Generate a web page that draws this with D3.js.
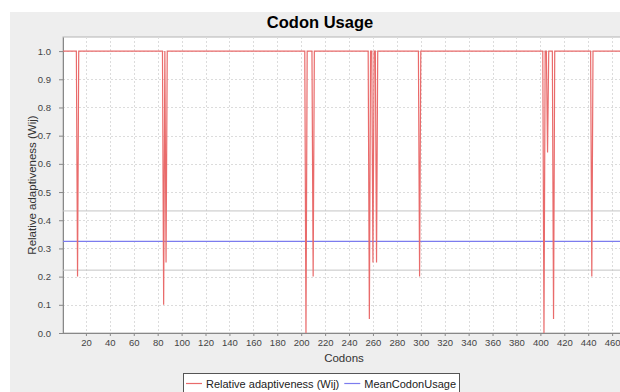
<!DOCTYPE html>
<html>
<head>
<meta charset="utf-8">
<script src="https://cdn.jsdelivr.net/npm/d3@7"></script>
<style>
  html, body { margin: 0; padding: 0; background: #fff; }
  svg { display: block; font-family: "Liberation Sans", Arial, sans-serif; }
</style>
</head>
<body>
<svg id="chart" width="620" height="392"></svg>
<script>
// codon positions run 1..codonCount, value 1.0 unless listed in dips
var codonCount = 470;
var baseValue = 1.0;
var dipCodons = [13, 85, 87, 204, 210, 257, 260, 263, 299, 403, 406, 411, 443];
var dipValues = [0.20, 0.10, 0.25, 0.00, 0.20, 0.05, 0.25, 0.25, 0.20, 0.00, 0.64, 0.05, 0.20];
var meanValue = 0.325;
var bandValues = [0.223, 0.433];
var xTicks = [20, 40, 60, 80, 100, 120, 140, 160, 180, 200, 220, 240, 260, 280, 300, 320, 340, 360, 380, 400, 420, 440, 460];
var yTicks = [0.0, 0.1, 0.2, 0.3, 0.4, 0.5, 0.6, 0.7, 0.8, 0.9, 1.0];
var seriesNames = ['Relative adaptiveness (Wij)', 'MeanCodonUsage'];
var seriesColors = ['#e96b6b', '#7c7cee'];

var wij = d3.range(1, codonCount + 1).map(function(c) {
  var i = dipCodons.indexOf(c);
  return { codon: c, value: i < 0 ? baseValue : dipValues[i] };
});

var svg = d3.select('#chart');
var plot = { left: 63, top: 37, right: 625, bottom: 333 };

var x = d3.scaleLinear().domain([0, 470]).range([62, 624.1]);
var y = d3.scaleLinear().domain([0, 1.05]).range([plot.bottom, plot.top]);

// chart panel
svg.append('rect')
    .attr('x', 10).attr('y', 12)
    .attr('width', 640).attr('height', 400)
    .attr('fill', '#eeeeee');

svg.append('text')
    .attr('x', 320).attr('y', 28)
    .attr('text-anchor', 'middle')
    .attr('font-size', 16.5)
    .attr('font-weight', 'bold')
    .attr('fill', '#000')
    .text('Codon Usage');

svg.append('defs').append('clipPath').attr('id', 'plot-clip')
  .append('rect')
    .attr('x', plot.left).attr('y', plot.top)
    .attr('width', plot.right - plot.left).attr('height', plot.bottom - plot.top);

svg.append('rect')
    .attr('x', plot.left).attr('y', plot.top)
    .attr('width', plot.right - plot.left).attr('height', plot.bottom - plot.top)
    .attr('fill', '#fff')
    .attr('stroke', '#b4b4b4');

// grid
var grid = svg.append('g').attr('clip-path', 'url(#plot-clip)')
    .attr('stroke', '#dcdcdc').attr('stroke-dasharray', '2,2').attr('shape-rendering', 'crispEdges');
grid.selectAll('line.v').data(xTicks).enter().append('line')
    .attr('x1', (d) => Math.round(x(d)) + 0.5).attr('x2', (d) => Math.round(x(d)) + 0.5)
    .attr('y1', plot.top).attr('y2', plot.bottom);
grid.selectAll('line.h').data(yTicks.slice(1)).enter().append('line')
    .attr('x1', plot.left).attr('x2', plot.right)
    .attr('y1', (d) => Math.round(y(d)) + 0.5).attr('y2', (d) => Math.round(y(d)) + 0.5);

// axes
var xAxis = d3.axisBottom(x).tickValues(xTicks).tickSizeInner(3).tickSizeOuter(0).tickPadding(3);
var yAxis = d3.axisLeft(y).tickValues(yTicks).tickFormat(d3.format('.1f')).tickSizeInner(4).tickSizeOuter(0).tickPadding(8);

var gx = svg.append('g').attr('transform', 'translate(0,' + plot.bottom + ')').call(xAxis);
var gy = svg.append('g').attr('transform', 'translate(' + plot.left + ',0)').call(yAxis);
[gx, gy].forEach(function(g) {
  g.select('.domain').attr('stroke', '#888');
  g.selectAll('.tick line').attr('stroke', '#888');
  g.selectAll('.tick text').attr('fill', '#444').attr('font-size', 9.5)
      .attr('font-family', '"Liberation Sans", Arial, sans-serif');
});

svg.append('text')
    .attr('x', (plot.left + plot.right) / 2).attr('y', 362)
    .attr('text-anchor', 'middle').attr('font-size', 11.5).attr('fill', '#333')
    .text('Codons');

svg.append('text')
    .attr('transform', 'translate(36,' + (plot.top + plot.bottom) / 2 + ') rotate(-90)')
    .attr('text-anchor', 'middle').attr('font-size', 11.5).attr('fill', '#333')
    .text('Relative adaptiveness (Wij)');

// series
var marks = svg.append('g').attr('clip-path', 'url(#plot-clip)');
marks.selectAll('line.band').data(bandValues).enter().append('line')
    .attr('x1', plot.left).attr('x2', plot.right)
    .attr('y1', (d) => y(d)).attr('y2', (d) => y(d))
    .attr('stroke', '#c4c4c4').attr('stroke-width', 1);

marks.append('line')
    .attr('x1', plot.left).attr('x2', plot.right)
    .attr('y1', y(meanValue)).attr('y2', y(meanValue))
    .attr('stroke', seriesColors[1]).attr('stroke-width', 1.2);

marks.append('path')
    .datum(wij)
    .attr('fill', 'none')
    .attr('stroke', seriesColors[0])
    .attr('stroke-width', 1.2)
    .attr('stroke-linejoin', 'miter')
    .attr('d', d3.line().x((d) => x(d.codon)).y((d) => y(d.value)));

// legend
var legend = svg.append('g');
var box = legend.append('rect')
    .attr('y', 373.5).attr('height', 24)
    .attr('fill', '#fff').attr('stroke', '#555');
var cursor = 0;
var items = legend.selectAll('g.item').data(seriesNames).enter().append('g');
items.append('line')
    .attr('x1', 0).attr('x2', 16).attr('y1', 383.5).attr('y2', 383.5)
    .attr('stroke', (d, i) => seriesColors[i]).attr('stroke-width', 1.2);
items.append('text')
    .attr('x', 20).attr('y', 387.5)
    .attr('font-size', 11).attr('fill', '#222')
    .text((d) => d);
items.each(function() {
  var w = d3.select(this).select('text').node().getComputedTextLength() + 20;
  d3.select(this).attr('data-w', w);
});
var widths = items.nodes().map((n) => +n.getAttribute('data-w'));
var total = d3.sum(widths) + 5 * (widths.length - 1) + 6;
var start = 321 - total / 2;
cursor = start + 3;
items.attr('transform', function(d, i) {
  var t = 'translate(' + cursor + ',0)';
  cursor += widths[i] + 5;
  return t;
});
box.attr('x', Math.round(start) + 0.5).attr('width', Math.round(total));
</script>
</body>
</html>
